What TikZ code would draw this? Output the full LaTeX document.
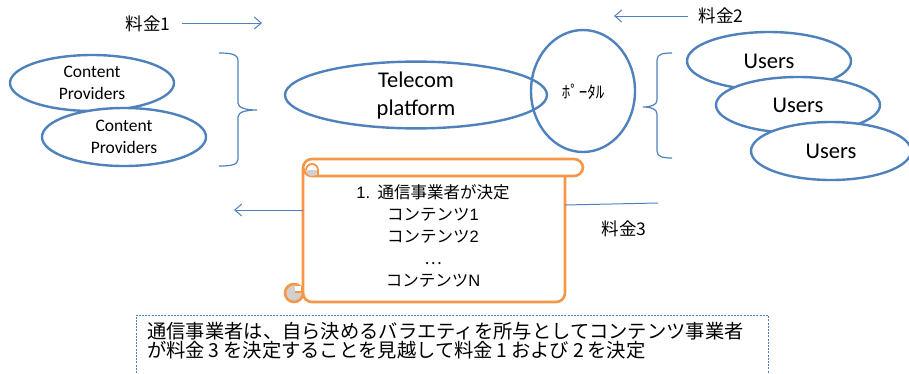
\documentclass[tikz,border=0pt]{standalone}
\usepackage{fontspec}
\setmainfont{Carlito}
\newfontfamily\jp{Noto Sans CJK JP}
\newfontfamily\ar{Liberation Sans}
\newcommand\fwd[1]{\makebox[0.95em]{#1}}
\usetikzlibrary{arrows.meta,shapes.geometric}
\definecolor{ublue}{HTML}{4F81BD}
\definecolor{uorange}{HTML}{F79646}
\definecolor{ugray}{HTML}{D0D0D0}
\begin{document}
\begin{tikzpicture}[x=1pt,y=-1pt,
  oval/.style={ellipse, draw=ublue, line width=2.4pt, fill=white, inner sep=0pt, align=center},
  thin/.style={draw=ublue, line width=1pt},
  arr/.style={thin, -{Straight Barb[length=7pt,width=12pt]}},
  brace/.style={draw=ublue, line width=1.2pt},
  scrollline/.style={draw=uorange, line width=2.6pt},
  fee/.style={font=\jp\fontsize{17.5}{20}\selectfont, inner sep=0pt},
  cpfont/.style={font=\fontsize{17.5}{22}\selectfont},
]
\useasboundingbox (0,0) rectangle (909,373);

% fee 1 and 2
\node[fee] (f1) at (148,24) {料金1};
\coordinate (a1s) at (182,23);
\coordinate (a1e) at (262,23);
\draw[arr] (a1s) -- (a1e);
\node[fee] (f2) at (721,16) {料金2};
\coordinate (a2s) at (688,16);
\coordinate (a2e) at (614,16);
\draw[arr] (a2s) -- (a2e);

% content providers
\node[oval, cpfont, minimum width=164pt, minimum height=56pt] (cp1) at (92,83) {Content\\Providers};
\node[oval, cpfont, minimum width=164pt, minimum height=58pt] (cp2) at (124,137) {Content\\Providers};

% left brace
\draw[brace] (219,53) .. controls (231,53) and (238,54) .. (238,61) -- (238,103)
  .. controls (238,108) and (246,110) .. (257,110)
  .. controls (246,110) and (238,112) .. (238,117) -- (238,159)
  .. controls (238,165) and (231,166) .. (219,166);

% platform and portal
\node[oval, fill=none, minimum width=104pt, minimum height=122pt] (portal) at (583,91) {};
\node[oval, fill=none, font=\fontsize{22.5}{28}\selectfont, minimum width=262pt, minimum height=66pt] (tp) at (416,95) {Telecom\\platform};
\node[font=\jp\fontsize{17}{18}\selectfont, inner sep=0pt] (pt) at (583,92) {ﾎﾟｰﾀﾙ};

% right brace
\draw[brace] (672,53) .. controls (663,53) and (657,54) .. (657,60) -- (657,100)
  .. controls (657,105) and (651,107) .. (643,107)
  .. controls (651,107) and (657,109) .. (657,114) -- (657,151)
  .. controls (657,157) and (663,158) .. (672,158);

% users
\node[oval, font=\fontsize{22.5}{26}\selectfont, minimum width=164pt, minimum height=58pt] (u1) at (769,61) {Users};
\node[oval, font=\fontsize{22.5}{26}\selectfont, minimum width=164pt, minimum height=56pt] (u2) at (798,105) {Users};
\node[oval, font=\fontsize{22.5}{26}\selectfont, minimum width=160pt, minimum height=58pt] (u3) at (831,151) {Users};

% scroll
\node[minimum width=263pt, minimum height=134pt, inner sep=0pt] (scroll) at (433.5,235) {};
\draw[scrollline, rounded corners=9pt] (303,168) -- (303,302) -- (565,302) -- (565,176);
\draw[scrollline, fill=white, rounded corners=9pt] (303,159) rectangle (583,176);
\fill[ugray] (306,170) arc[start angle=180, end angle=360, radius=6pt] -- cycle;
\draw[scrollline, line width=1.8pt] (306,170) arc[start angle=180, end angle=0, radius=6pt] -- (318,176);
\draw[scrollline, fill=ugray] (294,293) circle (9pt);
\fill[white] (295,292) rectangle (301,286);
\draw[scrollline, line width=1.8pt] (295,292) -- (303,292);
\node[font=\jp\fontsize{16.5}{22.2}\selectfont, align=center, inner sep=0pt] (st) at (433,236)
  {{\ar 1.}\ \ 通信事業者が決定\\コンテンツ{\ar 1}\\コンテンツ{\ar 2}\\…\\コンテンツ{\ar N}};

% fee 3
\coordinate (s3l) at (303,210);
\coordinate (l3) at (234,210);
\draw[arr] (s3l) -- (l3);
\coordinate (s3r) at (565,205);
\coordinate (r3) at (658,203);
\draw[thin] (s3r) -- (r3);
\node[fee] (f3) at (624,229) {料金3};

% note box
\coordinate (nb1) at (136,373);
\coordinate (nb2) at (136,315);
\coordinate (nb3) at (768,315);
\coordinate (nb4) at (768,373);
\draw[ublue, line width=0.8pt, dash pattern=on 2pt off 1.2pt] (nb1) -- (nb2) -- (nb3) -- (nb4);
\node[font=\jp\fontsize{19.3}{17.5}\selectfont, align=left, anchor=north west, inner sep=0pt] (note) at (147,322)
  {通信事業者は、自ら決めるバラエティを所与としてコンテンツ事業者\\が料金\fwd{3}を決定することを見越して料金\fwd{1}および\fwd{2}を決定};
\end{tikzpicture}
\end{document}
